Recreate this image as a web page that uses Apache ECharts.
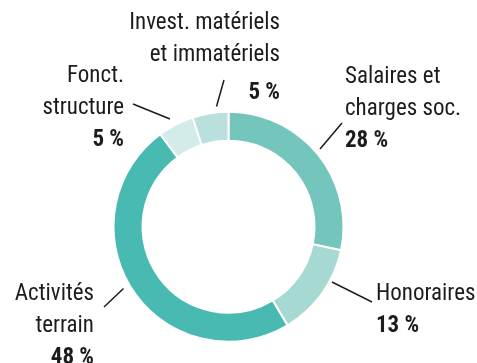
<!DOCTYPE html>
<html>
<head>
<meta charset="utf-8">
<script src="https://cdn.jsdelivr.net/npm/echarts@6/dist/echarts.min.js"></script>
<style>
  html, body { margin: 0; padding: 0; background: #ffffff; }
  #chart { width: 477px; height: 363px; }
</style>
</head>
<body>
<div id="chart"></div>
<script>
// Budget breakdown (percent of total)
const categories = [
  ['Salaires et', 'charges soc.'],
  ['Honoraires'],
  ['Activités', 'terrain'],
  ['Fonct.', 'structure'],
  ['Invest. matériels', 'et immatériels']
];
const shares = [28, 13, 48, 5, 5];
const sliceColors = ['#74c6bd', '#a7d9d3', '#49bab2', '#d3ecea', '#bae0dd'];

// Label placement: text anchor, alignment and leader line end points
const labelPlacement = [
  { x: 345, y: 61,  align: 'left',  line: [[320, 149], [342, 123]] },
  { x: 376, y: 278, align: 'left',  line: [[332, 282], [372, 302]] },
  { x: 94,  y: 278, align: 'right', line: [[123.5, 288.5], [104, 307]] },
  { x: 124, y: 60,  align: 'right', line: [[170, 119], [133, 104]] },
  { x: 280, y: 7,   align: 'right', line: [[216.5, 106.5], [224, 80]], gap: true }
];

const FONT = '"Liberation Sans Narrow", "Roboto Condensed", "Roboto", sans-serif';
const SIZE = 23;

const chart = echarts.init(document.getElementById('chart'), null, { renderer: 'canvas' });

const pieData = shares.map((v, i) => ({
  value: v,
  name: categories[i].join(' '),
  itemStyle: { color: sliceColors[i] },
  label: {
    formatter: categories[i].map(t => '{n|' + t + '}').join('\n') +
      '\n{' + (labelPlacement[i].gap ? 'vg' : 'v') + '|' + v + ' %}'
  }
}));

chart.setOption({
  animation: false,
  series: [{
    type: 'pie',
    center: [228.5, 226.7],
    radius: [86, 115],
    startAngle: 90,
    clockwise: true,
    avoidLabelOverlap: false,
    itemStyle: { borderColor: '#ffffff', borderWidth: 2 },
    label: {
      show: true,
      position: 'outside',
      overflow: 'none',
      color: '#1c1c1c',
      fontFamily: FONT,
      rich: {
        n: { fontSize: SIZE, lineHeight: 32, color: '#1c1c1c', fontFamily: FONT },
        v: { fontSize: SIZE, lineHeight: 32, fontWeight: 'bold', color: '#1c1c1c', fontFamily: FONT },
        vg: { fontSize: SIZE, lineHeight: 44, fontWeight: 'bold', color: '#1c1c1c', fontFamily: FONT }
      }
    },
    labelLine: {
      show: true,
      lineStyle: { color: '#1c1c1c', width: 1.5 }
    },
    labelLayout: function (params) {
      const p = labelPlacement[params.dataIndex];
      const a = p.line[0], b = p.line[1];
      return {
        x: p.x,
        y: p.y,
        align: p.align,
        verticalAlign: 'top',
        labelLinePoints: [a, [(a[0] + b[0]) / 2, (a[1] + b[1]) / 2], b]
      };
    },
    data: pieData
  }]
});
</script>
</body>
</html>
